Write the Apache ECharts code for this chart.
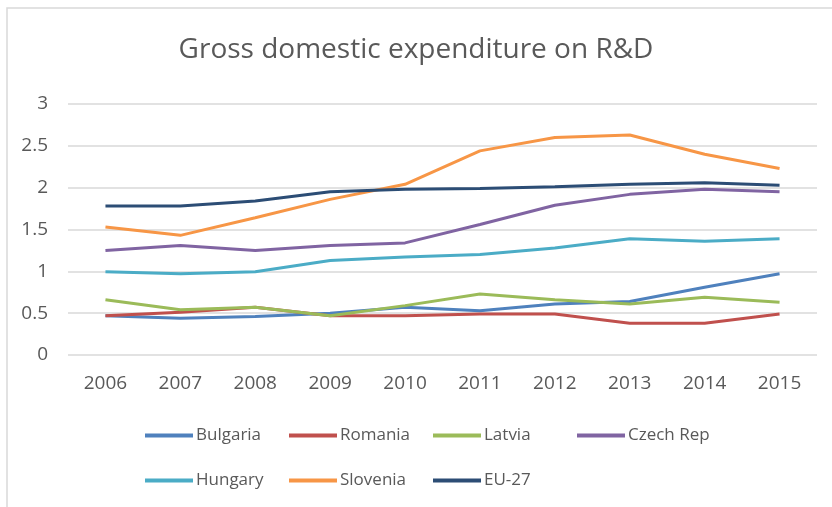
<!DOCTYPE html>
<html>
<head>
<meta charset="utf-8">
<script src="https://cdn.jsdelivr.net/npm/echarts@6/dist/echarts.min.js"></script>
<style>
  html, body { margin: 0; padding: 0; background: #fff; }
  #chart { width: 832px; height: 507px; }
</style>
</head>
<body>
<div id="chart"></div>
<script>
// years on the x axis
var years = ['2006', '2007', '2008', '2009', '2010', '2011', '2012', '2013', '2014', '2015']

// GERD as % of GDP
var bulgaria = [0.47, 0.44, 0.46, 0.50, 0.57, 0.53, 0.61, 0.64, 0.81, 0.97]
var romania = [0.47, 0.51, 0.57, 0.47, 0.47, 0.49, 0.49, 0.38, 0.38, 0.49]
var latvia = [0.66, 0.54, 0.57, 0.47, 0.59, 0.73, 0.66, 0.61, 0.69, 0.63]
var czechRep = [1.25, 1.31, 1.25, 1.31, 1.34, 1.56, 1.79, 1.92, 1.98, 1.95]
var hungary = [0.995, 0.97, 0.995, 1.13, 1.17, 1.20, 1.28, 1.39, 1.36, 1.39]
var slovenia = [1.53, 1.43, 1.64, 1.86, 2.04, 2.44, 2.60, 2.63, 2.40, 2.23]
var eu27 = [1.78, 1.78, 1.84, 1.95, 1.98, 1.99, 2.01, 2.04, 2.06, 2.03]

var names = ['Bulgaria', 'Romania', 'Latvia', 'Czech Rep', 'Hungary', 'Slovenia', 'EU-27']
var values = [bulgaria, romania, latvia, czechRep, hungary, slovenia, eu27]
var colors = ['#4F81BD', '#C0504D', '#9BBB59', '#8064A2', '#4BACC6', '#F79646', '#2C4D75']

var font = '"Open Sans", sans-serif'
var grey = '#595959'

function makeSeries () {
  return names.map(function (n, i) {
    return {
      name: n,
      type: 'line',
      data: values[i],
      symbol: 'none',
      lineStyle: { width: 3, color: colors[i] },
      itemStyle: { color: colors[i] }
    }
  })
}

// one legend per entry so the columns sit on a fixed 144px step
function makeLegends () {
  return names.map(function (n, i) {
    return {
      data: [n],
      left: 140 + (i % 4) * 144,
      top: i < 4 ? 422 : 467,
      icon: 'rect',
      itemWidth: 48,
      itemHeight: 4,
      textStyle: {
        fontFamily: font,
        fontSize: 17,
        color: grey,
        padding: [0, 0, 0, -2]
      }
    }
  })
}

var chart = echarts.init(document.getElementById('chart'))
var option = {
  animation: false,
  backgroundColor: '#fff',
  title: {
    text: 'Gross domestic expenditure on R&D',
    left: 'center',
    top: 31,
    textStyle: {
      fontFamily: font,
      fontSize: 28,
      fontWeight: 'normal',
      color: grey
    }
  },
  graphic: [{
    type: 'rect',
    shape: { x: 7, y: 8, width: 900, height: 600 },
    style: { fill: 'none', stroke: '#d9d9d9', lineWidth: 1.5 },
    silent: true
  }],
  legend: makeLegends(),
  grid: {
    left: 68,
    right: 15,
    top: 104,
    bottom: 152
  },
  xAxis: {
    type: 'category',
    data: years,
    boundaryGap: true,
    axisLine: { show: false },
    axisTick: { show: false },
    axisLabel: {
      fontFamily: font,
      fontSize: 19,
      color: grey,
      margin: 19
    }
  },
  yAxis: {
    type: 'value',
    min: 0,
    max: 3,
    interval: 0.5,
    axisLine: { show: false },
    axisTick: { show: false },
    splitLine: { lineStyle: { color: '#d9d9d9', width: 1.5 } },
    axisLabel: {
      fontFamily: font,
      fontSize: 19,
      color: grey,
      margin: 20
    }
  },
  series: makeSeries()
}
chart.setOption(option)
</script>
</body>
</html>
